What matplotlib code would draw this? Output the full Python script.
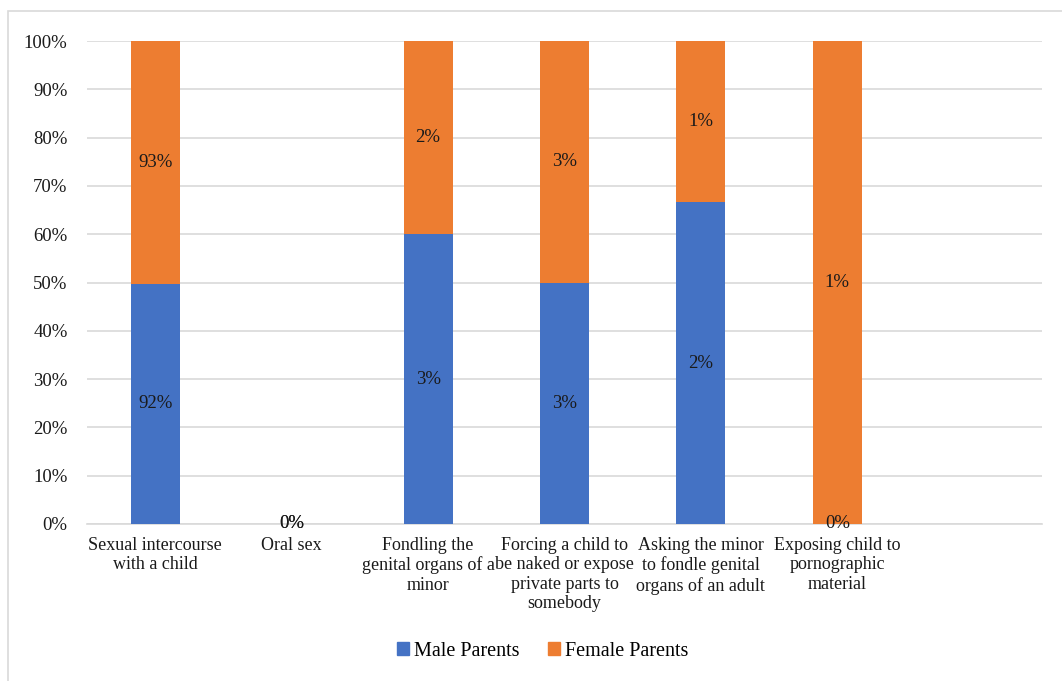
import matplotlib
matplotlib.use("Agg")
import matplotlib.pyplot as plt
import numpy as np
from matplotlib.patches import Rectangle

plt.rcParams['font.family'] = ['Liberation Serif', 'DejaVu Serif']

categories = ["Sexual intercourse\nwith a child", "Oral sex",
              "Fondling the\ngenital organs of a\nminor",
              "Forcing a child to\nbe naked or expose\nprivate parts to\nsomebody",
              "Asking the minor\nto fondle genital\norgans of an adult",
              "Exposing child to\npornographic\nmaterial", ""]
male = [92, 0, 3, 3, 2, 0, None]
female = [93, 0, 2, 3, 1, 1, None]
series_names = ["Male Parents", "Female Parents"]
colors = ["#4472C4", "#ED7D31"]
yticks = [0, 10, 20, 30, 40, 50, 60, 70, 80, 90, 100]

fig = plt.figure(figsize=(10.62, 6.81), dpi=100)
fig.patches.append(Rectangle((8/1062, -0.1), 1.2, 1 - 11/681 + 0.1, transform=fig.transFigure,
                             fill=False, edgecolor="#d9d9d9", linewidth=1.2))
ax = fig.add_axes([87/1062, 1 - 524/681, (1042 - 87)/1062, (524 - 41)/681])

x = np.arange(len(categories))
width = 0.36
fs = 13
for i in range(len(categories)):
    m, f = male[i], female[i]
    if m is None:
        continue
    tot = m + f
    mp = m / tot * 100 if tot else 0
    fp = f / tot * 100 if tot else 0
    ax.bar(x[i], mp, width, color=colors[0], zorder=3)
    ax.bar(x[i], fp, width, bottom=mp, color=colors[1], zorder=3)
    ax.text(x[i], mp / 2, f"{m}%", ha="center", va="center", fontsize=fs + 0.5, color="#1a1a1a", zorder=4)
    ax.text(x[i], mp + fp / 2, f"{f}%", ha="center", va="center", fontsize=fs + 0.5, color="#1a1a1a", zorder=4)

ax.set_xlim(-0.5, len(categories) - 0.5)
ax.set_ylim(0, 100)
ax.set_yticks(yticks)
ax.set_yticklabels([f"{v}%" for v in yticks], fontsize=fs + 0.5, color="#1a1a1a")
ax.set_xticks(x)
ax.set_xticklabels(categories, fontsize=fs, color="#1a1a1a", linespacing=1.2)
ax.tick_params(axis="both", length=0)
ax.tick_params(axis="y", pad=14)
ax.tick_params(axis="x", pad=9)
ax.grid(axis="y", color="#d9d9d9", linewidth=1.2, zorder=0)
for s in ["top", "right", "left"]:
    ax.spines[s].set_visible(False)
ax.spines["bottom"].set_color("#d9d9d9")
ax.spines["bottom"].set_linewidth(1.2)

handles = [Rectangle((0, 0), 1, 1, color=c) for c in colors]
fig.legend(handles, series_names, loc="center", bbox_to_anchor=(543/1062, 1 - 651/681), ncol=2,
           frameon=False, fontsize=14.5, handlelength=0.6, handleheight=0.6, handletextpad=0.25,
           columnspacing=1.4)

fig.savefig("out.png", dpi=100)
